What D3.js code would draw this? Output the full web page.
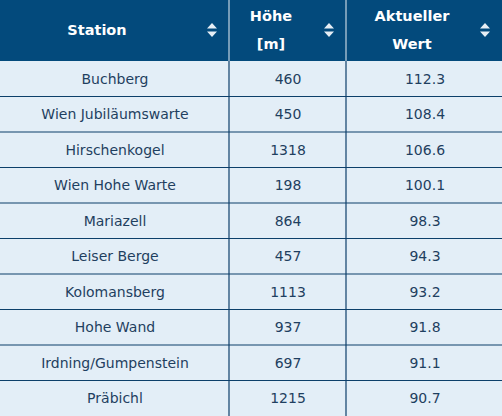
<!DOCTYPE html><html><head><meta charset="utf-8"><script src="https://cdn.jsdelivr.net/npm/d3@7"></script>
<style>body{margin:0;background:#fff}text{font-family:"DejaVu Sans",Verdana,sans-serif}</style></head><body><svg id="c" width="502" height="416"></svg>
<script>
const stations=["Buchberg","Wien Jubiläumswarte","Hirschenkogel","Wien Hohe Warte","Mariazell","Leiser Berge","Kolomansberg","Hohe Wand","Irdning/Gumpenstein","Präbichl"];
const heights=[460,450,1318,198,864,457,1113,937,697,1215];
const values=[112.3,108.4,106.6,100.1,98.3,94.3,93.2,91.8,91.1,90.7];
const headers=[["Station"],["Höhe","[m]"],["Aktueller","Wert"]];
const svg=d3.select("#c");
const colX=[0,229,346,502];
const headH=61;
const y=d3.scaleBand().domain(d3.range(stations.length)).range([headH,416]);
svg.append("rect").attr("width",502).attr("height",headH).attr("fill","#034a7c");
svg.append("rect").attr("y",headH).attr("width",502).attr("height",416-headH).attr("fill","#e3eef7");
// headers
const hcx=[97,271,412];
headers.forEach((h,i)=>{
  h.forEach((t,j)=>{
    svg.append("text").attr("x",hcx[i]).attr("y",h.length==1?35:21+j*28).attr("text-anchor","middle")
      .attr("fill","#fff").attr("font-weight","bold").attr("font-size",14.5).text(t);
  });
  const ix=colX[i+1]-17, iy=30;
  svg.append("path").attr("d",`M${ix-5},${iy-1.5}L${ix+5},${iy-1.5}L${ix},${iy-7}Z M${ix-5},${iy+1.5}L${ix+5},${iy+1.5}L${ix},${iy+7}Z`).attr("fill","#e6eef5");
});
const cols=[stations,heights,values.map(v=>v.toFixed(1))];
const cx=[115,288,425];
cols.forEach((arr,i)=>{
  svg.selectAll(null).data(arr).enter().append("text").attr("x",cx[i]).attr("y",(d,k)=>y(k)+y.bandwidth()/2+5)
    .attr("text-anchor","middle").attr("fill","#1f3f60").attr("font-size",14).text(d=>d);
});
// lines
stations.forEach((s,k)=>{if(k>0)svg.append("line").attr("x1",0).attr("x2",502).attr("y1",y(k)).attr("y2",y(k)).attr("stroke","#0c3f6a").attr("stroke-width",1.2);});
[229,346].forEach(x=>{
  svg.append("line").attr("x1",x).attr("x2",x).attr("y1",0).attr("y2",headH).attr("stroke","#e8eef4").attr("stroke-width",1);
  svg.append("line").attr("x1",x).attr("x2",x).attr("y1",headH).attr("y2",416).attr("stroke","#0c3f6a").attr("stroke-width",1.2);
});
</script></body></html>
